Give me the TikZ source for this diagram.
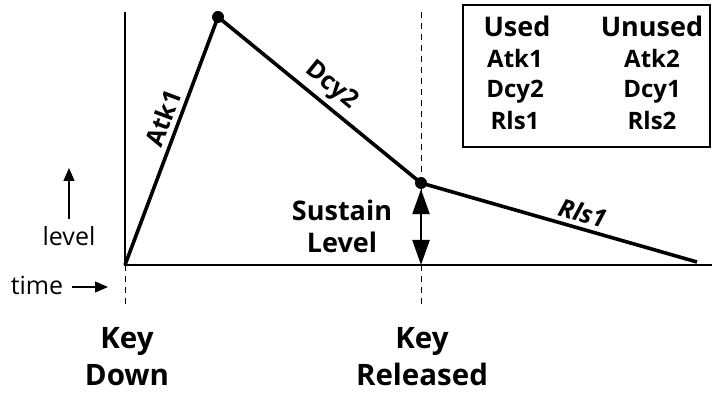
\documentclass[tikz,border=0pt]{standalone}
\usepackage{fontspec}
\setmainfont{Open Sans}
\usetikzlibrary{arrows.meta, positioning}
\tikzset{
	axis/.style     ={line width=1.3pt},
	env/.style      ={line width=3.6pt, line join=round},
	keyline/.style  ={line width=0.9pt, dash pattern=on 6pt off 5pt},
	dot/.style      ={circle, fill=black, inner sep=0pt, minimum size=12pt},
	seglabel/.style ={font=\fontsize{25}{25}\selectfont\bfseries, sloped, above=1pt},
	keylabel/.style ={font=\fontsize{29.5}{37}\selectfont\bfseries, align=center},
	tblhead/.style  ={font=\fontsize{27}{27}\selectfont\bfseries, anchor=base},
	tblcell/.style  ={font=\fontsize{24}{24}\selectfont\bfseries, anchor=base},
	hint/.style     ={font=\fontsize{25}{25}\selectfont},
	hintarrow/.style={-{Triangle[length=13pt, width=11pt]}, line width=1.3pt},
	susarrow/.style ={{Triangle[length=25pt, width=17pt]}-{Triangle[length=25pt, width=17pt]}, line width=2.4pt},
}

\begin{document}
\begin{tikzpicture}[x=1pt, y=1pt]
	\useasboundingbox (0,0) rectangle (712,394);
	% axes
	\coordinate (origin) at (125,129);
	\coordinate (ytop) at (125,382);
	\coordinate (xend) at (712,129);
	\draw[axis] (ytop) -- (origin) -- (xend);
	% key markers
	\coordinate (kdtop) at (125,129);
	\coordinate (kdbot) at (125,87);
	\coordinate (krtop) at (421,382);
	\coordinate (krbot) at (421,89);
	\draw[keyline] (kdtop) -- (kdbot);
	\draw[keyline] (krtop) -- (krbot);
	% envelope
	\node[dot] (peak) at (218,377) {};
	\node[dot] (sus) at (421,211) {};
	\coordinate (rlsend) at (697,132);
	\draw[env] (origin) -- node[seglabel, pos=0.57] {Atk1} (peak.center)
		-- node[seglabel, pos=0.5] {Dcy2} (sus.center)
		-- node[seglabel, pos=0.57, font=\fontsize{25}{25}\selectfont\bfseries\itshape] {Rls1} (rlsend);
	% sustain level
	\coordinate (susbase) at (421,129);
	\draw[susarrow] (sus.south) -- (susbase);
	\node[keylabel, font=\fontsize{27}{32}\selectfont\bfseries] (suslabel) at (342,168) {Sustain\\Level};
	% key labels
	\node[keylabel] (keydown) at (127,37) {Key\\Down};
	\node[keylabel] (keyrel) at (422,37) {Key\\Released};
	% level / time hints
	\node[hint] (level) at (69,158) {level};
	\coordinate (levtip) at (69,226);
	\draw[hintarrow] (level.north) ++(0,4) coordinate (levbase) -- (levtip);
	\node[hint] (time) at (37,109) {time};
	\coordinate (timetip) at (108,107);
	\draw[hintarrow] (time.east) ++(5,-2) coordinate (timebase) -- (timetip);
	% legend
	\draw[line width=2pt] (463,247) rectangle (710,389);
	\node[tblhead] (used) at (517,357) {Used};
	\node[tblhead] (unused) at (652,357) {Unused};
	\node[tblcell] (u1) at (515,326) {Atk1};
	\node[tblcell] (u2) at (515,296) {Dcy2};
	\node[tblcell] (u3) at (515,264) {Rls1};
	\node[tblcell] (n1) at (652,326) {Atk2};
	\node[tblcell] (n2) at (652,296) {Dcy1};
	\node[tblcell] (n3) at (652,264) {Rls2};
\end{tikzpicture}
\end{document}
